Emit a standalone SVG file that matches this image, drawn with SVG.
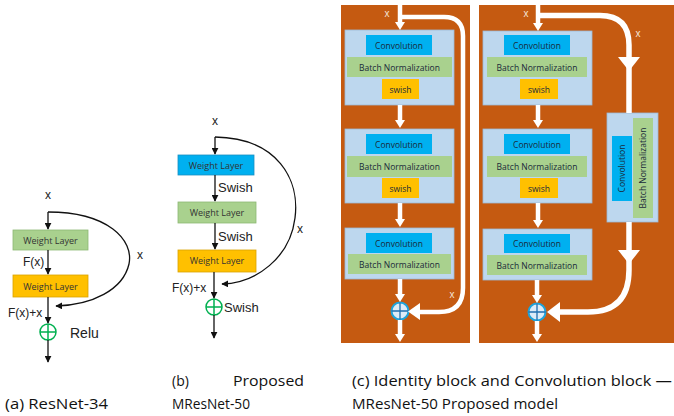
<svg xmlns="http://www.w3.org/2000/svg" width="674" height="416" viewBox="0 0 674 416">
  <defs>
    <marker id="arr" viewBox="0 0 10 10" refX="9" refY="5" markerWidth="7" markerHeight="7" markerUnits="userSpaceOnUse" orient="auto">
      <path d="M0,0 L10,5 L0,10 z" fill="#111"/>
    </marker>
    <style>
      .lbl { font-family: "Liberation Sans", Arial, sans-serif; fill: #222; }
      .box { font-family: "Open Sans", "Liberation Sans", sans-serif; font-size: 9px; fill: #333; text-anchor: middle; }
      .cbox { font-family: "Open Sans", "Liberation Sans", sans-serif; font-size: 8.5px; fill: #1a2a3a; text-anchor: middle; }
      .ln { stroke: #111; stroke-width: 1.3; fill: none; }
      .wl { stroke: #fff; stroke-width: 4.5; fill: none; }
      .wx { font-family: "Liberation Sans", sans-serif; font-size: 10px; fill: #f4e2d6; text-anchor: middle; }
      .cap { font-family: "Open Sans", "Liberation Sans", sans-serif; font-size: 14px; fill: #111; }
      .plus { fill: none; stroke: #00B050; stroke-width: 1.5; }
      .cplus { fill: #DDEBF7; stroke: #1FA3DA; stroke-width: 2; }
    </style>
  </defs>

  <rect width="674" height="416" fill="#fff"/>

  <!-- (a) ResNet-34 block -->
  <g id="a-input"><text class="lbl" x="48" y="199" font-size="12" text-anchor="middle">x</text></g>
  <g id="a-weight1">
    <rect x="13" y="230" width="75" height="20" fill="#A9D18E" stroke="#8DB874" stroke-width="0.8"/>
    <text class="box" x="50.5" y="243.5">Weight Layer</text>
  </g>
  <g id="a-weight2">
    <rect x="13" y="275" width="75" height="22" fill="#FFC000" stroke="#D9A300" stroke-width="0.8"/>
    <text class="box" x="50.5" y="289.5">Weight Layer</text>
  </g>
  <g id="a-add">
    <circle class="plus" cx="48" cy="332" r="8"/>
    <path class="plus" d="M40,332 H56 M48,324 V340"/>
    <text class="lbl" x="70" y="338" font-size="14">Relu</text>
  </g>
  <g id="a-labels">
    <text class="lbl" x="23" y="266" font-size="12">F(x)</text>
    <text class="lbl" x="8" y="317" font-size="12">F(x)+x</text>
    <text class="lbl" x="137" y="259" font-size="12">x</text>
  </g>

  <!-- (b) Proposed MResNet-50 block -->
  <g id="b-input"><text class="lbl" x="215" y="125" font-size="12" text-anchor="middle">x</text></g>
  <g id="b-weight1">
    <rect x="178" y="155" width="76" height="20" fill="#00B0F0" stroke="#1A8FC0" stroke-width="0.8"/>
    <text class="box" x="216" y="168.5">Weight Layer</text>
  </g>
  <g id="b-weight2">
    <rect x="178" y="202" width="78" height="21" fill="#A9D18E" stroke="#8DB874" stroke-width="0.8"/>
    <text class="box" x="217" y="215.5">Weight Layer</text>
  </g>
  <g id="b-weight3">
    <rect x="178" y="250" width="78" height="22" fill="#FFC000" stroke="#D9A300" stroke-width="0.8"/>
    <text class="box" x="217" y="264">Weight Layer</text>
  </g>
  <g id="b-add">
    <circle class="plus" cx="214" cy="307" r="8"/>
    <path class="plus" d="M206,307 H222 M214,299 V315"/>
    <text class="lbl" x="224" y="312" font-size="13">Swish</text>
  </g>
  <g id="b-labels">
    <text class="lbl" x="218" y="192" font-size="13">Swish</text>
    <text class="lbl" x="218" y="241" font-size="13">Swish</text>
    <text class="lbl" x="172" y="292" font-size="12">F(x)+x</text>
    <text class="lbl" x="297" y="233" font-size="12">x</text>
  </g>

  <!-- (c) panels background -->
  <rect id="c-identity-bg" x="341" y="5" width="129" height="338" fill="#C55A11"/>
  <rect id="c-conv-bg" x="479" y="5" width="195" height="338" fill="#C55A11"/>

  <!-- (c) identity block stages -->
  <g id="c-id-stage1">
    <rect x="345" y="30" width="109" height="75" fill="#BDD7EE" stroke="#9DB9D5" stroke-width="0.8"/>
    <rect x="366" y="35" width="66" height="20" fill="#00B0F0"/>
    <text class="cbox" x="399" y="48.5">Convolution</text>
    <rect x="347" y="57" width="105" height="20" fill="#A9D18E"/>
    <text class="cbox" x="399.5" y="70.5">Batch Normalization</text>
    <rect x="382" y="79" width="37" height="20" fill="#FFC000"/>
    <text class="cbox" x="400.5" y="92.5">swish</text>
  </g>
  <g id="c-id-stage2">
    <rect x="345" y="129" width="109" height="74" fill="#BDD7EE" stroke="#9DB9D5" stroke-width="0.8"/>
    <rect x="366" y="134" width="66" height="20" fill="#00B0F0"/>
    <text class="cbox" x="399" y="147.5">Convolution</text>
    <rect x="347" y="156" width="105" height="21" fill="#A9D18E"/>
    <text class="cbox" x="399.5" y="169.5">Batch Normalization</text>
    <rect x="382" y="178" width="37" height="20" fill="#FFC000"/>
    <text class="cbox" x="400.5" y="191.5">swish</text>
  </g>
  <g id="c-id-stage3">
    <rect x="345" y="228" width="109" height="51" fill="#BDD7EE" stroke="#9DB9D5" stroke-width="0.8"/>
    <rect x="366" y="233" width="66" height="20" fill="#00B0F0"/>
    <text class="cbox" x="399" y="246.5">Convolution</text>
    <rect x="348" y="254" width="103" height="20" fill="#A9D18E"/>
    <text class="cbox" x="399.5" y="267.5">Batch Normalization</text>
  </g>
  <g id="c-id-add">
    <circle class="cplus" cx="400" cy="311" r="8.5"/>
    <path d="M391.5,311 H408.5 M400,302.5 V319.5" stroke="#1F6FB0" stroke-width="1.3"/>
  </g>

  <!-- (c) convolution block stages -->
  <g id="c-cv-stage1">
    <rect x="483" y="31" width="109" height="74" fill="#BDD7EE" stroke="#9DB9D5" stroke-width="0.8"/>
    <rect x="504" y="35" width="66" height="20" fill="#00B0F0"/>
    <text class="cbox" x="537" y="48.5">Convolution</text>
    <rect x="487" y="57" width="100" height="20" fill="#A9D18E"/>
    <text class="cbox" x="537" y="70.5">Batch Normalization</text>
    <rect x="520" y="79" width="38" height="20" fill="#FFC000"/>
    <text class="cbox" x="539" y="92.5">swish</text>
  </g>
  <g id="c-cv-stage2">
    <rect x="483" y="129" width="109" height="74" fill="#BDD7EE" stroke="#9DB9D5" stroke-width="0.8"/>
    <rect x="504" y="134" width="66" height="20" fill="#00B0F0"/>
    <text class="cbox" x="537" y="147.5">Convolution</text>
    <rect x="487" y="156" width="100" height="21" fill="#A9D18E"/>
    <text class="cbox" x="537" y="169.5">Batch Normalization</text>
    <rect x="520" y="178" width="38" height="20" fill="#FFC000"/>
    <text class="cbox" x="539" y="191.5">swish</text>
  </g>
  <g id="c-cv-stage3">
    <rect x="483" y="229" width="109" height="51" fill="#BDD7EE" stroke="#9DB9D5" stroke-width="0.8"/>
    <rect x="504" y="234" width="66" height="19" fill="#00B0F0"/>
    <text class="cbox" x="537" y="247">Convolution</text>
    <rect x="487" y="255" width="100" height="20" fill="#A9D18E"/>
    <text class="cbox" x="537" y="268.5">Batch Normalization</text>
  </g>
  <g id="c-cv-shortcut">
    <rect x="607" y="113" width="51" height="109" fill="#BDD7EE" stroke="#9DB9D5" stroke-width="0.8"/>
    <rect x="612" y="136" width="20" height="65" fill="#00B0F0"/>
    <text class="cbox" transform="translate(625,168.5) rotate(-90)">Convolution</text>
    <rect x="633" y="118" width="20" height="100" fill="#A9D18E"/>
    <text class="cbox" transform="translate(646,168) rotate(-90)">Batch Normalization</text>
  </g>
  <g id="c-cv-add">
    <circle class="cplus" cx="537" cy="312" r="8.5"/>
    <path d="M528.5,312 H545.5 M537,303.5 V320.5" stroke="#1F6FB0" stroke-width="1.3"/>
  </g>

  <!-- connectors -->
  <g id="connectors">
    <!-- (a) -->
    <line class="ln" x1="48" y1="212" x2="48" y2="229" marker-end="url(#arr)"/>
    <line class="ln" x1="48" y1="250" x2="48" y2="274" marker-end="url(#arr)"/>
    <line class="ln" x1="48" y1="297" x2="48" y2="323" marker-end="url(#arr)"/>
    <line class="ln" x1="48" y1="340" x2="48" y2="362" marker-end="url(#arr)"/>
    <path class="ln" d="M48,212 C108,212 134,240 129,264 C123,290 92,305 56,306" marker-end="url(#arr)"/>
    <!-- (b) -->
    <line class="ln" x1="215" y1="137" x2="215" y2="154" marker-end="url(#arr)"/>
    <line class="ln" x1="215" y1="175" x2="215" y2="201" marker-end="url(#arr)"/>
    <line class="ln" x1="215" y1="223" x2="215" y2="249" marker-end="url(#arr)"/>
    <line class="ln" x1="214" y1="272" x2="214" y2="298" marker-end="url(#arr)"/>
    <line class="ln" x1="214" y1="315" x2="214" y2="338" marker-end="url(#arr)"/>
    <path class="ln" d="M215,137 C278,138 300,180 295,218 C290,258 256,283 222,284" marker-end="url(#arr)"/>

    <!-- (c) identity block: main path -->
    <line class="wl" x1="400" y1="5" x2="400" y2="23"/>
    <path d="M395,22 L405,22 L400,30 z" fill="#fff"/>
    <line class="wl" x1="400" y1="105" x2="400" y2="121"/>
    <path d="M395,120 L405,120 L400,128 z" fill="#fff"/>
    <line class="wl" x1="400" y1="203" x2="400" y2="220"/>
    <path d="M395,219 L405,219 L400,227 z" fill="#fff"/>
    <line class="wl" x1="400" y1="279" x2="400" y2="295"/>
    <path d="M395,294 L405,294 L400,302 z" fill="#fff"/>
    <line class="wl" x1="400" y1="320" x2="400" y2="335"/>
    <path d="M395,334 L405,334 L400,342 z" fill="#fff"/>
    <!-- (c) identity block: skip path -->
    <path class="wl" d="M400,17 H444 Q463,17 463,36 V288 Q463,312 439,312 H418"/>
    <path d="M420,303 L420,320 L408,311.5 z" fill="#fff"/>

    <!-- (c) convolution block: main path -->
    <line class="wl" x1="538" y1="5" x2="538" y2="24"/>
    <path d="M533,23 L543,23 L538,31 z" fill="#fff"/>
    <line class="wl" x1="538" y1="105" x2="538" y2="121"/>
    <path d="M533,120 L543,120 L538,128 z" fill="#fff"/>
    <line class="wl" x1="538" y1="203" x2="538" y2="221"/>
    <path d="M533,220 L543,220 L538,228 z" fill="#fff"/>
    <line class="wl" x1="537" y1="280" x2="537" y2="296"/>
    <path d="M532,295 L542,295 L537,303 z" fill="#fff"/>
    <line class="wl" x1="537" y1="321" x2="537" y2="335"/>
    <path d="M532,334 L542,334 L537,342 z" fill="#fff"/>
    <!-- (c) convolution block: projection path -->
    <path class="wl" d="M538,15.5 H600 Q629,15.5 629,45 V113" style="stroke-width:5.5"/>
    <path d="M618,57 L640,57 L629,71 z" fill="#fff"/>
    <path class="wl" d="M629,222 V270 Q629,312 588,312 H559" style="stroke-width:5.5"/>
    <path d="M618,250 L640,250 L629,264 z" fill="#fff"/>
    <path d="M560,302 L560,322 L547,312 z" fill="#fff"/>

    <!-- (c) x labels -->
    <text class="wx" x="387" y="17">x</text>
    <text class="wx" x="452" y="298">x</text>
    <text class="wx" x="526" y="17">x</text>
    <text class="wx" x="638" y="37">x</text>
  </g>

  <!-- captions -->
  <g id="captions">
    <text class="cap" x="5" y="409" textLength="103" lengthAdjust="spacingAndGlyphs">(a) ResNet-34</text>
    <text class="cap" x="172" y="386">(b)</text>
    <text class="cap" x="233" y="386" textLength="71" lengthAdjust="spacingAndGlyphs">Proposed</text>
    <text class="cap" x="172" y="409" textLength="78" lengthAdjust="spacingAndGlyphs">MResNet-50</text>
    <text class="cap" x="352" y="386" textLength="320" lengthAdjust="spacingAndGlyphs">(c) Identity block and Convolution block —</text>
    <text class="cap" x="352" y="409" textLength="206" lengthAdjust="spacingAndGlyphs">MResNet-50 Proposed model</text>
  </g>
</svg>
